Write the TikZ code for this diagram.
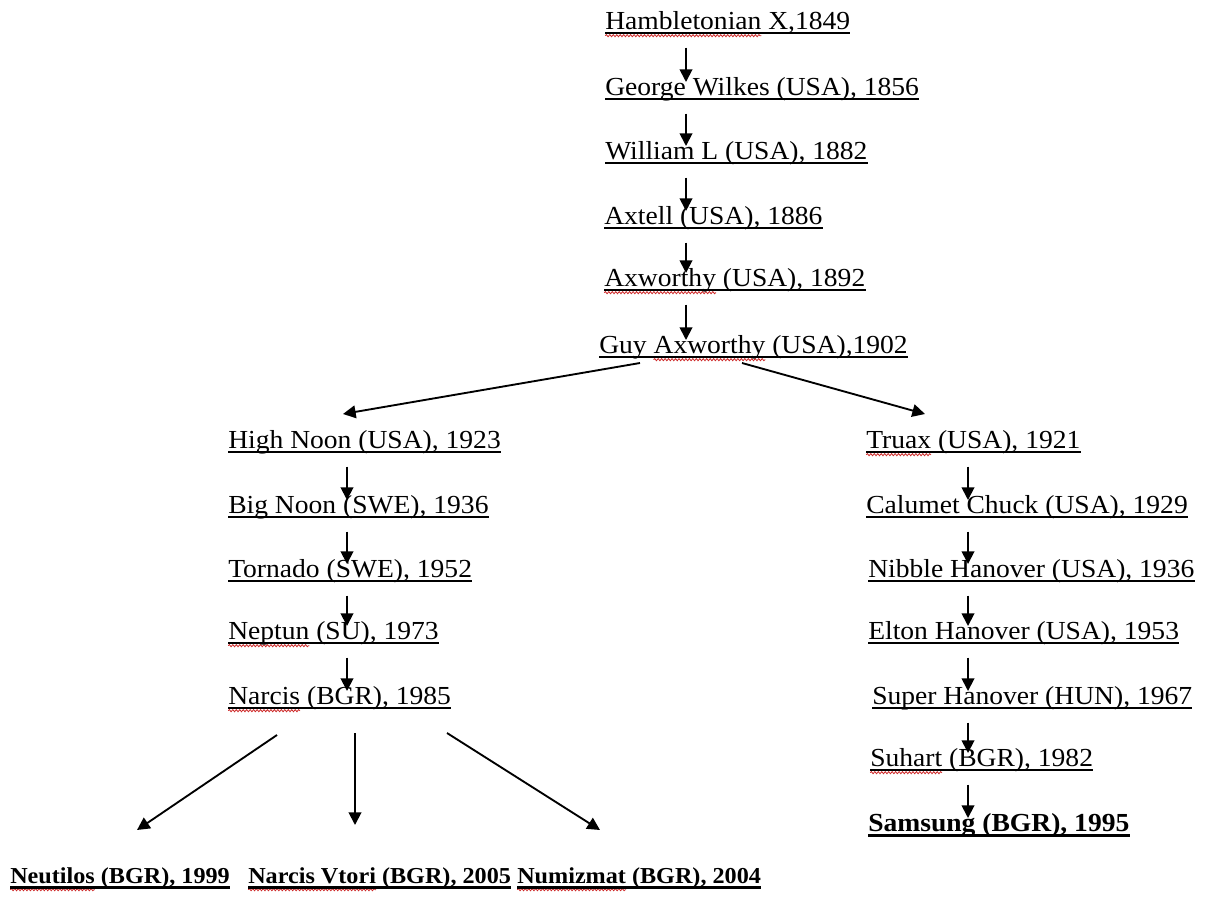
\documentclass[tikz,border=0pt]{standalone}
\usepackage{fontspec}
\setmainfont{Liberation Serif}[FakeStretch=1.06]
\usetikzlibrary{arrows.meta,decorations.pathmorphing}
\definecolor{spellred}{RGB}{205,40,40}

\newsavebox{\spellbox}
\newlength{\spellwd}
% red wavy line under a word, as the spell checker draws it
\newcommand{\misspelt}[1]{%
  \sbox{\spellbox}{#1}\setlength{\spellwd}{\wd\spellbox}%
  \rlap{\tikz[overlay]\draw[spellwave] (0pt,-5pt) -- (\spellwd,-5pt);}%
  \usebox{\spellbox}}

\tikzset{
  entry/.style = {anchor=base west, inner sep=0pt},
  uline/.style = {-, line width=1.4pt},
  horse/.style = {entry, font=\fontsize{19.5}{22}\selectfont,
    append after command={([yshift=-3pt]\tikzlastnode.base west)
      edge[uline] ([yshift=-3pt]\tikzlastnode.base east)}},
  champ/.style = {entry, font=\fontsize{19.5}{22}\selectfont\bfseries,
    append after command={([yshift=-3.4pt]\tikzlastnode.base west)
      edge[uline, line width=2.1pt] ([yshift=-3.4pt]\tikzlastnode.base east)}},
  foal/.style = {champ, font=\fontsize{17.1}{20}\selectfont\bfseries},
  link/.style = {->, line width=1.4pt},
  spellwave/.style = {draw=spellred, line width=0.6pt, decorate,
    decoration={snake, amplitude=0.8pt, segment length=2.6pt}}
}

\begin{document}
\begin{tikzpicture}[x=0.75pt, y=-0.75pt, >={Triangle[length=9.5pt, width=9.5pt]}]
  \useasboundingbox (0,0) rectangle (1206,903);
  % x of the vertical arrows in each column
  \coordinate (cc) at (686,0);
  \coordinate (lc) at (347,0);
  \coordinate (rc) at (968,0);

  % main line
  \node [horse] (ham)      at (605,29)  {\misspelt{Hambletonian} X,1849};
  \node [horse] (wilkes)   at (605,95)  {George Wilkes (USA), 1856};
  \node [horse] (william)  at (605,159) {William L (USA), 1882};
  \node [horse] (axtell)   at (604,224) {Axtell (USA), 1886};
  \node [horse] (axworthy) at (604,286) {\misspelt{Axworthy} (USA), 1892};
  \node [horse] (guy)      at (599,353) {Guy \misspelt{Axworthy} (USA),1902};

  % left branch
  \node [horse] (highnoon) at (228,448) {High Noon (USA), 1923};
  \node [horse] (bignoon)  at (228,513) {Big Noon (SWE), 1936};
  \node [horse] (tornado)  at (228,577) {Tornado (SWE), 1952};
  \node [horse] (neptun)   at (228,639) {\misspelt{Neptun} (SU), 1973};
  \node [horse] (narcis)   at (228,704) {\misspelt{Narcis} (BGR), 1985};

  % right branch
  \node [horse] (truax)    at (866,448) {\misspelt{Truax} (USA), 1921};
  \node [horse] (calumet)  at (866,513) {Calumet Chuck (USA), 1929};
  \node [horse] (nibble)   at (868,577) {Nibble Hanover (USA), 1936};
  \node [horse] (elton)    at (868,639) {Elton Hanover (USA), 1953};
  \node [horse] (super)    at (872,704) {Super Hanover (HUN), 1967};
  \node [horse] (suhart)   at (870,766) {\misspelt{Suhart} (BGR), 1982};
  \node [champ] (samsung)  at (868,831) {Samsung (BGR), 1995};

  % offspring of Narcis
  \node [foal] (neutilos)  at (10,883)  {\misspelt{Neutilos} (BGR), 1999};
  \node [foal] (vtori)     at (248,883) {\misspelt{Narcis Vtori} (BGR), 2005};
  \node [foal] (numizmat)  at (517,883) {\misspelt{Numizmat} (BGR), 2004};

  \foreach \from/\to/\col in {ham/wilkes/cc, wilkes/william/cc, william/axtell/cc,
      axtell/axworthy/cc, axworthy/guy/cc,
      highnoon/bignoon/lc, bignoon/tornado/lc, tornado/neptun/lc, neptun/narcis/lc,
      truax/calumet/rc, calumet/nibble/rc, nibble/elton/rc, elton/super/rc,
      super/suhart/rc, suhart/samsung/rc}
    \draw [link] ([yshift=-14pt]\from.base -| \col) -- ([yshift=9.75pt]\to.base -| \col);

  \draw [link] ([shift={(41,10)}]guy.base west) -- ([shift={(115,-34)}]highnoon.base west);
  \draw [link] ([shift={(143,10)}]guy.base west) -- ([shift={(59,-34)}]truax.base west);
  \draw [link] ([shift={(49,31)}]narcis.base west) -- ([shift={(127,-53)}]neutilos.base west);
  \draw [link] ([shift={(127,29)}]narcis.base west) -- ([shift={(107,-58)}]vtori.base west);
  \draw [link] ([shift={(219,29)}]narcis.base west) -- ([shift={(83,-53)}]numizmat.base west);
\end{tikzpicture}
\end{document}
